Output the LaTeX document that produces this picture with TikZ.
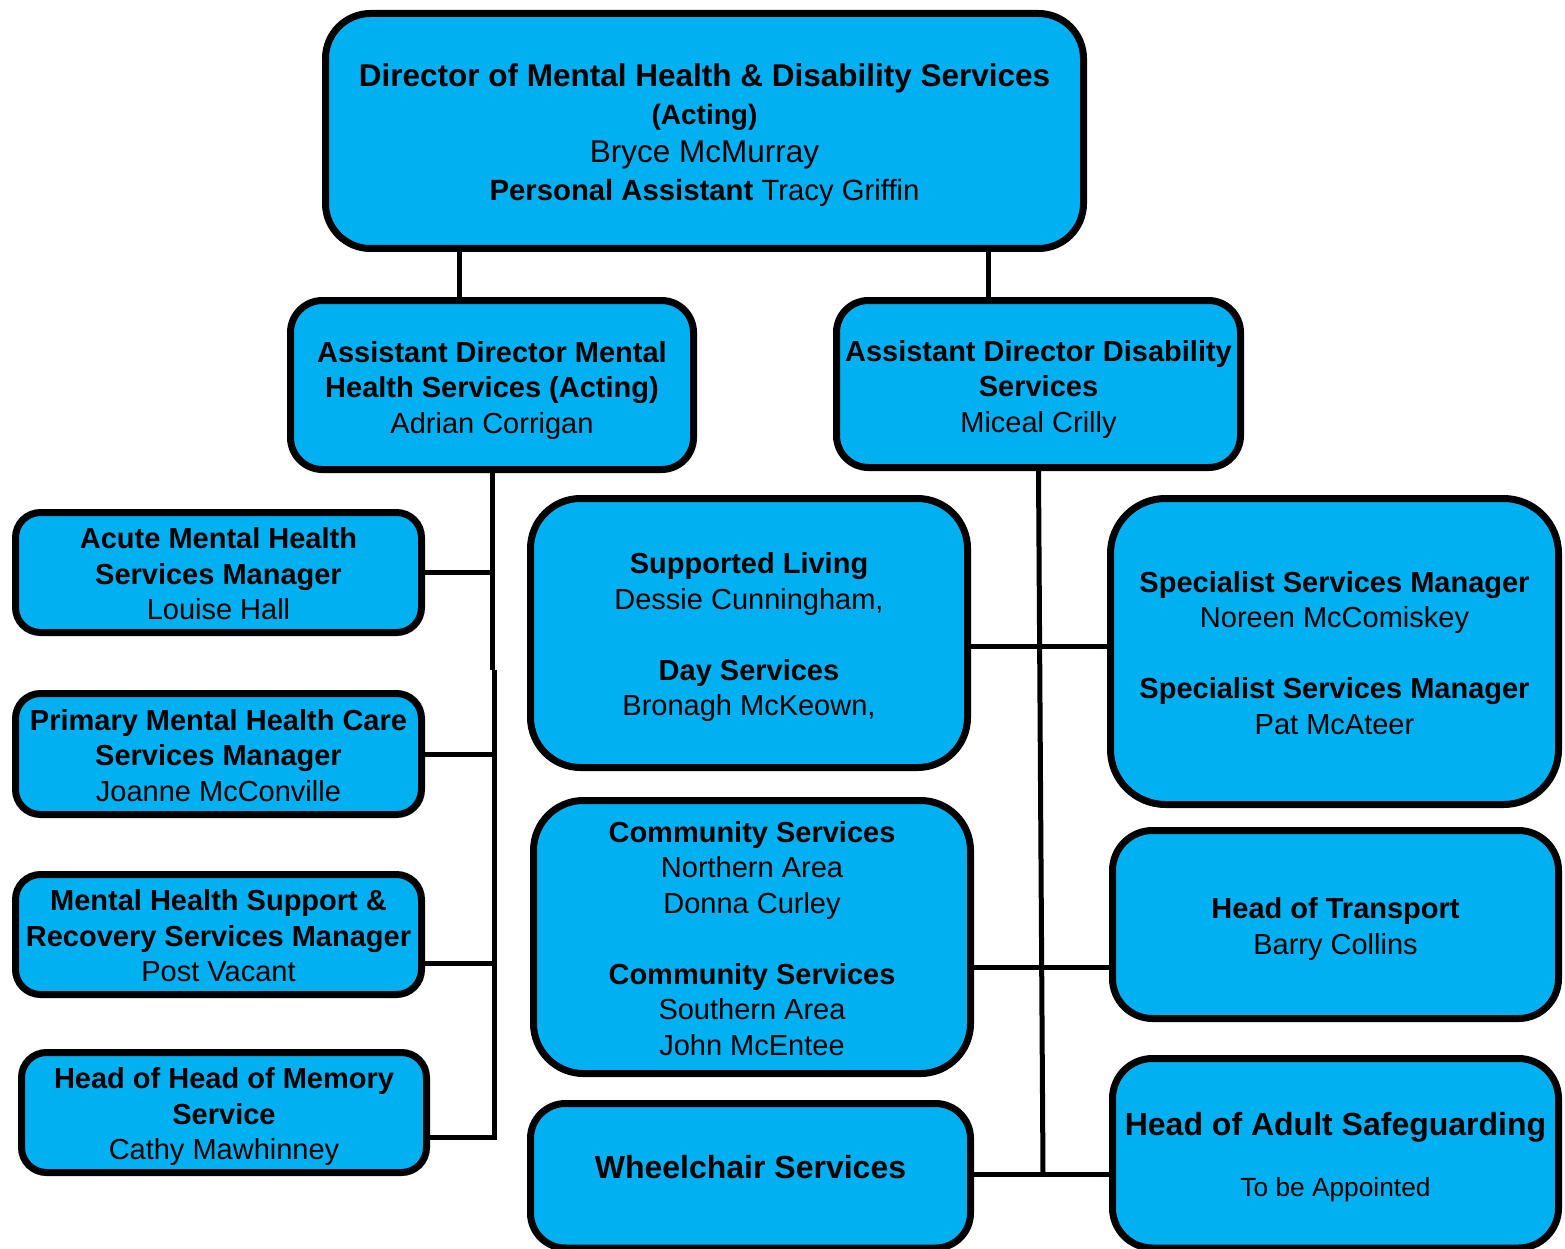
\documentclass[tikz,border=0pt]{standalone}
\usepackage{fontspec}
\setmainfont{Liberation Sans}
\definecolor{boxblue}{HTML}{00B0F0}
\newcommand{\tstr}[1][31.5pt]{\rule{0pt}{#1}}
\newcommand{\bstr}[1][8pt]{\rule[-#1]{0pt}{#1}}
\begin{document}
\begin{tikzpicture}[x=1pt,y=-1pt,
  orgbox/.style={draw=black, line width=7pt, fill=boxblue, rounded corners=#1,
    inner sep=0pt, align=center, font=\fontsize{29}{35.5}\selectfont},
  orgbox/.default=25pt,
  link/.style={draw=black, line width=5pt}]
\fill[white] (0,0) rectangle (1565,1249);
\useasboundingbox (0,0) rectangle (1565,1249);

% top
\node[orgbox=45pt, minimum width=758pt, minimum height=235pt,
  font=\fontsize{29}{38}\selectfont] (top) at (704.5,131)
  {\tstr[32.8pt]{\fontsize{31.5}{38}\selectfont\bfseries Director of Mental Health \& Disability Services}\\
   {\fontsize{28}{38}\selectfont\bfseries (Acting)}\\
   {\fontsize{31.5}{38}\selectfont Bryce McMurray}\\
   {\fontsize{29.3}{38}\selectfont\textbf{Personal Assistant} Tracy Griffin}\bstr};

% assistant directors
\node[orgbox=32pt, minimum width=403pt, minimum height=169pt] (admh) at (492,385)
  {\tstr[33.5pt]\textbf{Assistant Director Mental}\\ \textbf{Health Services (Acting)}\\ Adrian Corrigan\bstr};
\node[orgbox=32pt, minimum width=404pt, minimum height=167pt] (admis) at (1038.5,384)
  {\tstr[33pt]\textbf{Assistant Director Disability}\\ \textbf{Services}\\ Miceal Crilly\bstr};

% left column
\node[orgbox, minimum width=406pt, minimum height=120pt] (acute) at (218.5,572.5)
  {\tstr\textbf{Acute Mental Health}\\ \textbf{Services Manager}\\ Louise Hall\bstr};
\node[orgbox, minimum width=406pt, minimum height=121pt] (primary) at (218.5,754)
  {\tstr\textbf{Primary Mental Health Care}\\ \textbf{Services Manager}\\ Joanne McConville\bstr};
\node[orgbox, minimum width=406pt, minimum height=120pt] (mhs) at (218.5,934.5)
  {\tstr\textbf{Mental Health Support \&}\\ \textbf{Recovery Services Manager}\\ Post Vacant\bstr};
\node[orgbox, minimum width=405pt, minimum height=120pt] (memory) at (224,1112.5)
  {\tstr\textbf{Head of Head of Memory}\\ \textbf{Service}\\ Cathy Mawhinney\bstr};

% middle column
\node[orgbox=50pt, minimum width=437pt, minimum height=269pt] (supported) at (749,633)
  {\tstr\textbf{Supported Living}\\ Dessie Cunningham,\\[35.5pt] \textbf{Day Services}\\ Bronagh McKeown,\bstr};
\node[orgbox=50pt, minimum width=437pt, minimum height=273pt] (community) at (752,937)
  {\tstr\textbf{Community Services}\\ Northern Area\\ Donna Curley\\[35.5pt]
   \textbf{Community Services}\\ Southern Area\\ John McEntee\bstr};
\node[orgbox=35pt, minimum width=440pt, minimum height=144.5pt,
  font=\fontsize{32}{38}\selectfont] (wheel) at (750.5,1175.75)
  {\tstr[25.4pt]\textbf{Wheelchair Services}\bstr[20pt]};

% right column
\node[orgbox=55pt, minimum width=448pt, minimum height=306pt] (specialist) at (1334.5,651.5)
  {\tstr\textbf{Specialist Services Manager}\\ Noreen McComiskey\\[35.5pt]
   \textbf{Specialist Services Manager}\\ Pat McAteer\bstr};
\node[orgbox=40pt, minimum width=446pt, minimum height=188pt] (transport) at (1335.5,924.5)
  {\tstr\textbf{Head of Transport}\\ Barry Collins\bstr};
\node[orgbox=40pt, minimum width=446pt, minimum height=189.5pt] (safe) at (1335.5,1153.25)
  {\tstr[33.4pt]{\fontsize{32}{38}\selectfont\bfseries Head of Adult Safeguarding}\\[25pt]
   {\fontsize{26.3}{32}\selectfont To be Appointed}\bstr};

% connectors
\coordinate (ja) at (459,0);
\coordinate (jb) at (988,0);
\draw[link] (ja |- top.south) -- (ja |- admh.north);
\draw[link] (jb |- top.south) -- (jb |- admis.north);

\coordinate (lk) at (494,670);
\coordinate (lb) at (494,1137);
\coordinate (lm) at (0,963);
\draw[link] (admh.south) -- (admh.south |- lk);
\draw[link] (lk) -- (lb) -- (memory.east |- lb);
\draw[link] (acute.east) -- (acute.east -| admh.south);
\draw[link] (primary.east) -- (primary.east -| lb);
\draw[link] (mhs.east |- lm) -- (lb |- lm);

\coordinate (rb) at (1043,1174);
\coordinate (rs) at (0,646);
\coordinate (rt) at (0,967);
\draw[link] (admis.south) -- (rb);
\draw[link] (supported.east |- rs) -- (specialist.west |- rs);
\draw[link] (community.east |- rt) -- (transport.west |- rt);
\draw[link] (wheel.east |- rb) -- (safe.west |- rb);
\end{tikzpicture}
\end{document}
